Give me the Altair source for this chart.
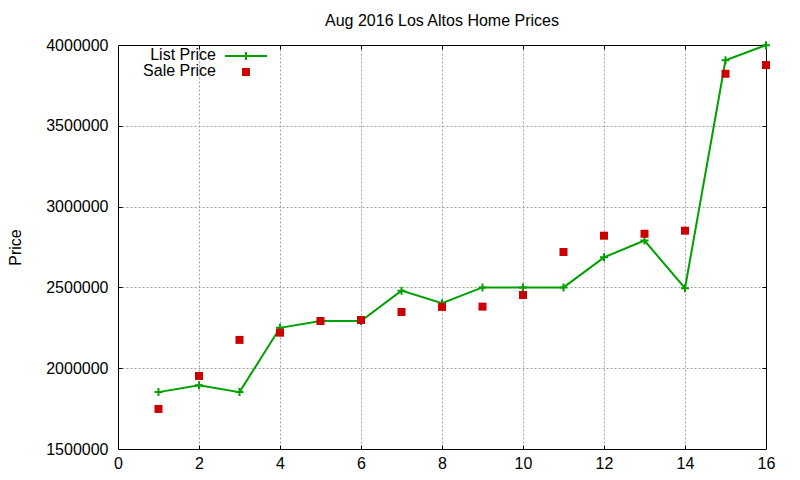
import altair as alt
import pandas as pd

# --- data ---
house_index = list(range(1, 17))
list_price = [1852000, 1895000, 1852000, 2250000, 2292000, 2292000, 2480000, 2402000,
              2500000, 2500000, 2500000, 2686000, 2790000, 2495000, 3905000, 3999000]
sale_price = [1748000, 1952000, 2175000, 2220000, 2292000, 2298000, 2348000, 2379000,
              2381000, 2453000, 2719000, 2820000, 2832000, 2851000, 3822000, 3876000]
x_ticks = [0, 2, 4, 6, 8, 10, 12, 14, 16]
y_ticks = [1500000, 2000000, 2500000, 3000000, 3500000, 4000000]
title_text = "Aug 2016 Los Altos Home Prices"
y_title = "Price"
legend_labels = ["List Price", "Sale Price"]

GREEN = "#00a000"
RED = "#cc0000"
FONT = "Liberation Sans"
PLUS = "M-1,0L1,0M0,-1L0,1"

df = pd.DataFrame({"n": house_index, "list": list_price, "sale": sale_price})

xscale = alt.Scale(domain=[0, 16], nice=False, zero=False)
yscale = alt.Scale(domain=[1500000, 4000000], nice=False, zero=False)

grid_x_op = {"condition": {"test": "datum.value <= 0 || datum.value >= 16", "value": 0}, "value": 1}
grid_y_op = {"condition": {"test": "datum.value <= 1500000 || datum.value >= 4000000", "value": 0}, "value": 1}

main_x = alt.Axis(values=x_ticks, format="d", title=None, grid=True, gridDash=[2, 2],
                  gridColor="#a0a0a0", gridOpacity=grid_x_op, ticks=False, domain=False,
                  labelFont=FONT, labelFontSize=16, labelColor="#000000", labelPadding=6,
                  labelFlush=False, labelOverlap=False, labelBound=False)
main_y = alt.Axis(values=y_ticks, format="d", title=y_title, grid=True, gridDash=[2, 2],
                  gridColor="#a0a0a0", gridOpacity=grid_y_op, ticks=False, domain=False,
                  labelFont=FONT, labelFontSize=16, labelColor="#000000", labelPadding=10,
                  labelFlush=False, labelOverlap=False, labelBound=False,
                  titleFont=FONT, titleFontSize=16, titleFontWeight="normal", titleColor="#000000",
                  titlePadding=22)

inner_x_vals = x_ticks[1:-1]
inner_y_vals = y_ticks[1:-1]

def tick_axis(orient, vals):
    return alt.Axis(orient=orient, values=vals, title=None, labels=False, grid=False,
                    domain=False, ticks=True, tickSize=4, tickColor="#000000",
                    tickWidth=1, offset=-4)

base = alt.Chart(df)

line = base.mark_line(color=GREEN, strokeWidth=2).encode(
    x=alt.X("n:Q", scale=xscale, axis=main_x),
    y=alt.Y("list:Q", scale=yscale, axis=main_y),
)

crosses = base.mark_point(shape=PLUS, size=64, filled=False, stroke=GREEN,
                          strokeWidth=2, opacity=1).encode(
    x=alt.X("n:Q", scale=xscale, axis=tick_axis("top", inner_x_vals)),
    y=alt.Y("list:Q", scale=yscale, axis=tick_axis("right", inner_y_vals)),
)

squares = base.mark_square(size=64, color=RED, opacity=1).encode(
    x=alt.X("n:Q", scale=xscale, axis=tick_axis("bottom", inner_x_vals)),
    y=alt.Y("sale:Q", scale=yscale, axis=tick_axis("left", inner_y_vals)),
)

one = pd.DataFrame({"a": [0]})
leg_text1 = alt.Chart(one).mark_text(text=legend_labels[0], font=FONT, fontSize=16, align="right",
                                     baseline="middle", color="#000000").encode(
    x=alt.value(98), y=alt.value(10))
leg_text2 = alt.Chart(one).mark_text(text=legend_labels[1], font=FONT, fontSize=16, align="right",
                                     baseline="middle", color="#000000").encode(
    x=alt.value(98), y=alt.value(26))
leg_line = alt.Chart(one).mark_rule(color=GREEN, strokeWidth=2).encode(
    x=alt.value(107), x2=alt.value(149), y=alt.value(11))
leg_cross = alt.Chart(one).mark_point(shape=PLUS, size=64, filled=False, stroke=GREEN,
                                      strokeWidth=2, opacity=1).encode(
    x=alt.value(128), y=alt.value(11))
leg_square = alt.Chart(one).mark_square(size=64, color=RED, opacity=1).encode(
    x=alt.value(128), y=alt.value(27))

chart = alt.layer(line, crosses, squares, leg_text1, leg_text2, leg_line, leg_cross, leg_square).resolve_scale(
    x="shared", y="shared"
).resolve_axis(
    x="independent", y="independent"
).properties(
    width=648, height=404,
    title=alt.Title(title_text, font=FONT, fontSize=16, fontWeight="normal", color="#000000",
                    anchor="middle", offset=8),
    autosize=alt.AutoSizeParams(type="none"),
    padding={"left": 110, "top": 37, "right": 26, "bottom": 31},
    background="#ffffff",
).configure_view(stroke="#000000", strokeWidth=1)

chart.save("out.html", embed_options={"renderer": "svg", "actions": False})
